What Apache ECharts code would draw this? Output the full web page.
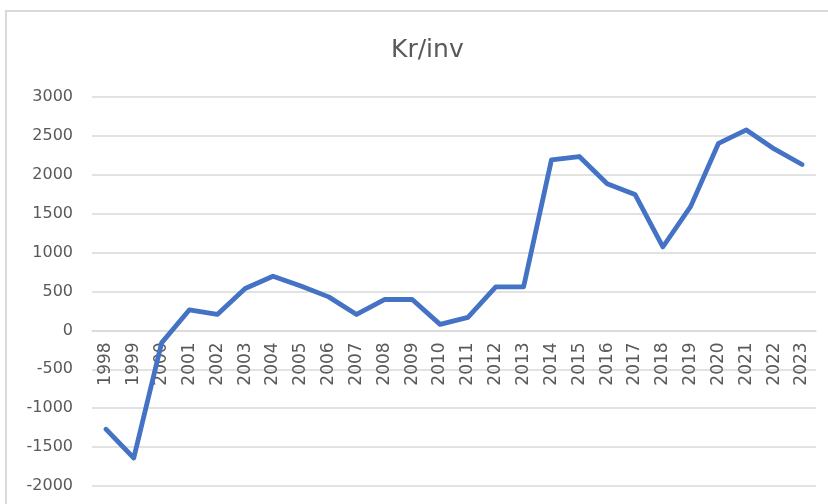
<!DOCTYPE html>
<html>
<head>
<meta charset="utf-8">
<script src="https://cdn.jsdelivr.net/npm/echarts@6/dist/echarts.min.js"></script>
<style>
  html, body { margin: 0; padding: 0; background: #fff; }
  #frame { position: absolute; left: 5px; top: 10px; width: 840px; height: 510px; border: 2px solid #d9d9d9; box-sizing: border-box; }
  #chart { position: absolute; left: 0; top: 0; width: 828px; height: 504px; }
</style>
</head>
<body>
<div id="frame"></div>
<div id="chart"></div>
<script>
// data
const years = ['1998', '1999', '2000', '2001', '2002', '2003', '2004', '2005', '2006', '2007', '2008', '2009', '2010',
  '2011', '2012', '2013', '2014', '2015', '2016', '2017', '2018', '2019', '2020', '2021', '2022', '2023'];
const krPerInv = [-1270, -1640, -160, 265, 205, 538, 696, 570, 431, 205, 397, 397, 77,
  167, 560, 560, 2192, 2235, 1884, 1747, 1072, 1594, 2405, 2577, 2333, 2132];
const yMin = -2000, yMax = 3000;

const chart = echarts.init(document.getElementById('chart'), null, { renderer: 'canvas' });
const labelFont = 'DejaVu Sans, sans-serif';

// category axis crosses the value axis at 0, like the Excel original
const gridTop = 97, gridBottom = 18;
const plotH = 504 - gridTop - gridBottom;
const zeroOffset = -plotH * (0 - yMin) / (yMax - yMin);

chart.setOption({
  backgroundColor: 'transparent',
  animation: false,
  title: {
    text: 'Kr/inv',
    left: 386,
    top: 33,
    textStyle: { color: '#595959', fontSize: 25, fontWeight: 'normal', fontFamily: labelFont }
  },
  grid: { left: 92, right: 12, top: gridTop, bottom: gridBottom, containLabel: false, outerBoundsMode: 'none' },
  xAxis: {
    type: 'category',
    data: years,
    boundaryGap: true,
    offset: zeroOffset,
    axisLine: { onZero: false, lineStyle: { color: '#d9d9d9', width: 1.5 } },
    axisTick: { show: false },
    axisLabel: { rotate: 90, margin: 12, color: '#595959', fontSize: 17, fontFamily: labelFont, interval: 0 }
  },
  yAxis: {
    type: 'value',
    min: yMin,
    max: yMax,
    interval: 500,
    axisLine: { show: false },
    axisTick: { show: false },
    axisLabel: { color: '#595959', fontSize: 16, fontFamily: labelFont, margin: 19, formatter: v => String(v) },
    splitLine: { lineStyle: { color: '#d9d9d9', width: 1.5 } }
  },
  series: [{
    type: 'line',
    data: krPerInv,
    symbol: 'none',
    lineStyle: { color: '#4472c4', width: 4.8, cap: 'round', join: 'round' }
  }]
});
</script>
</body>
</html>
